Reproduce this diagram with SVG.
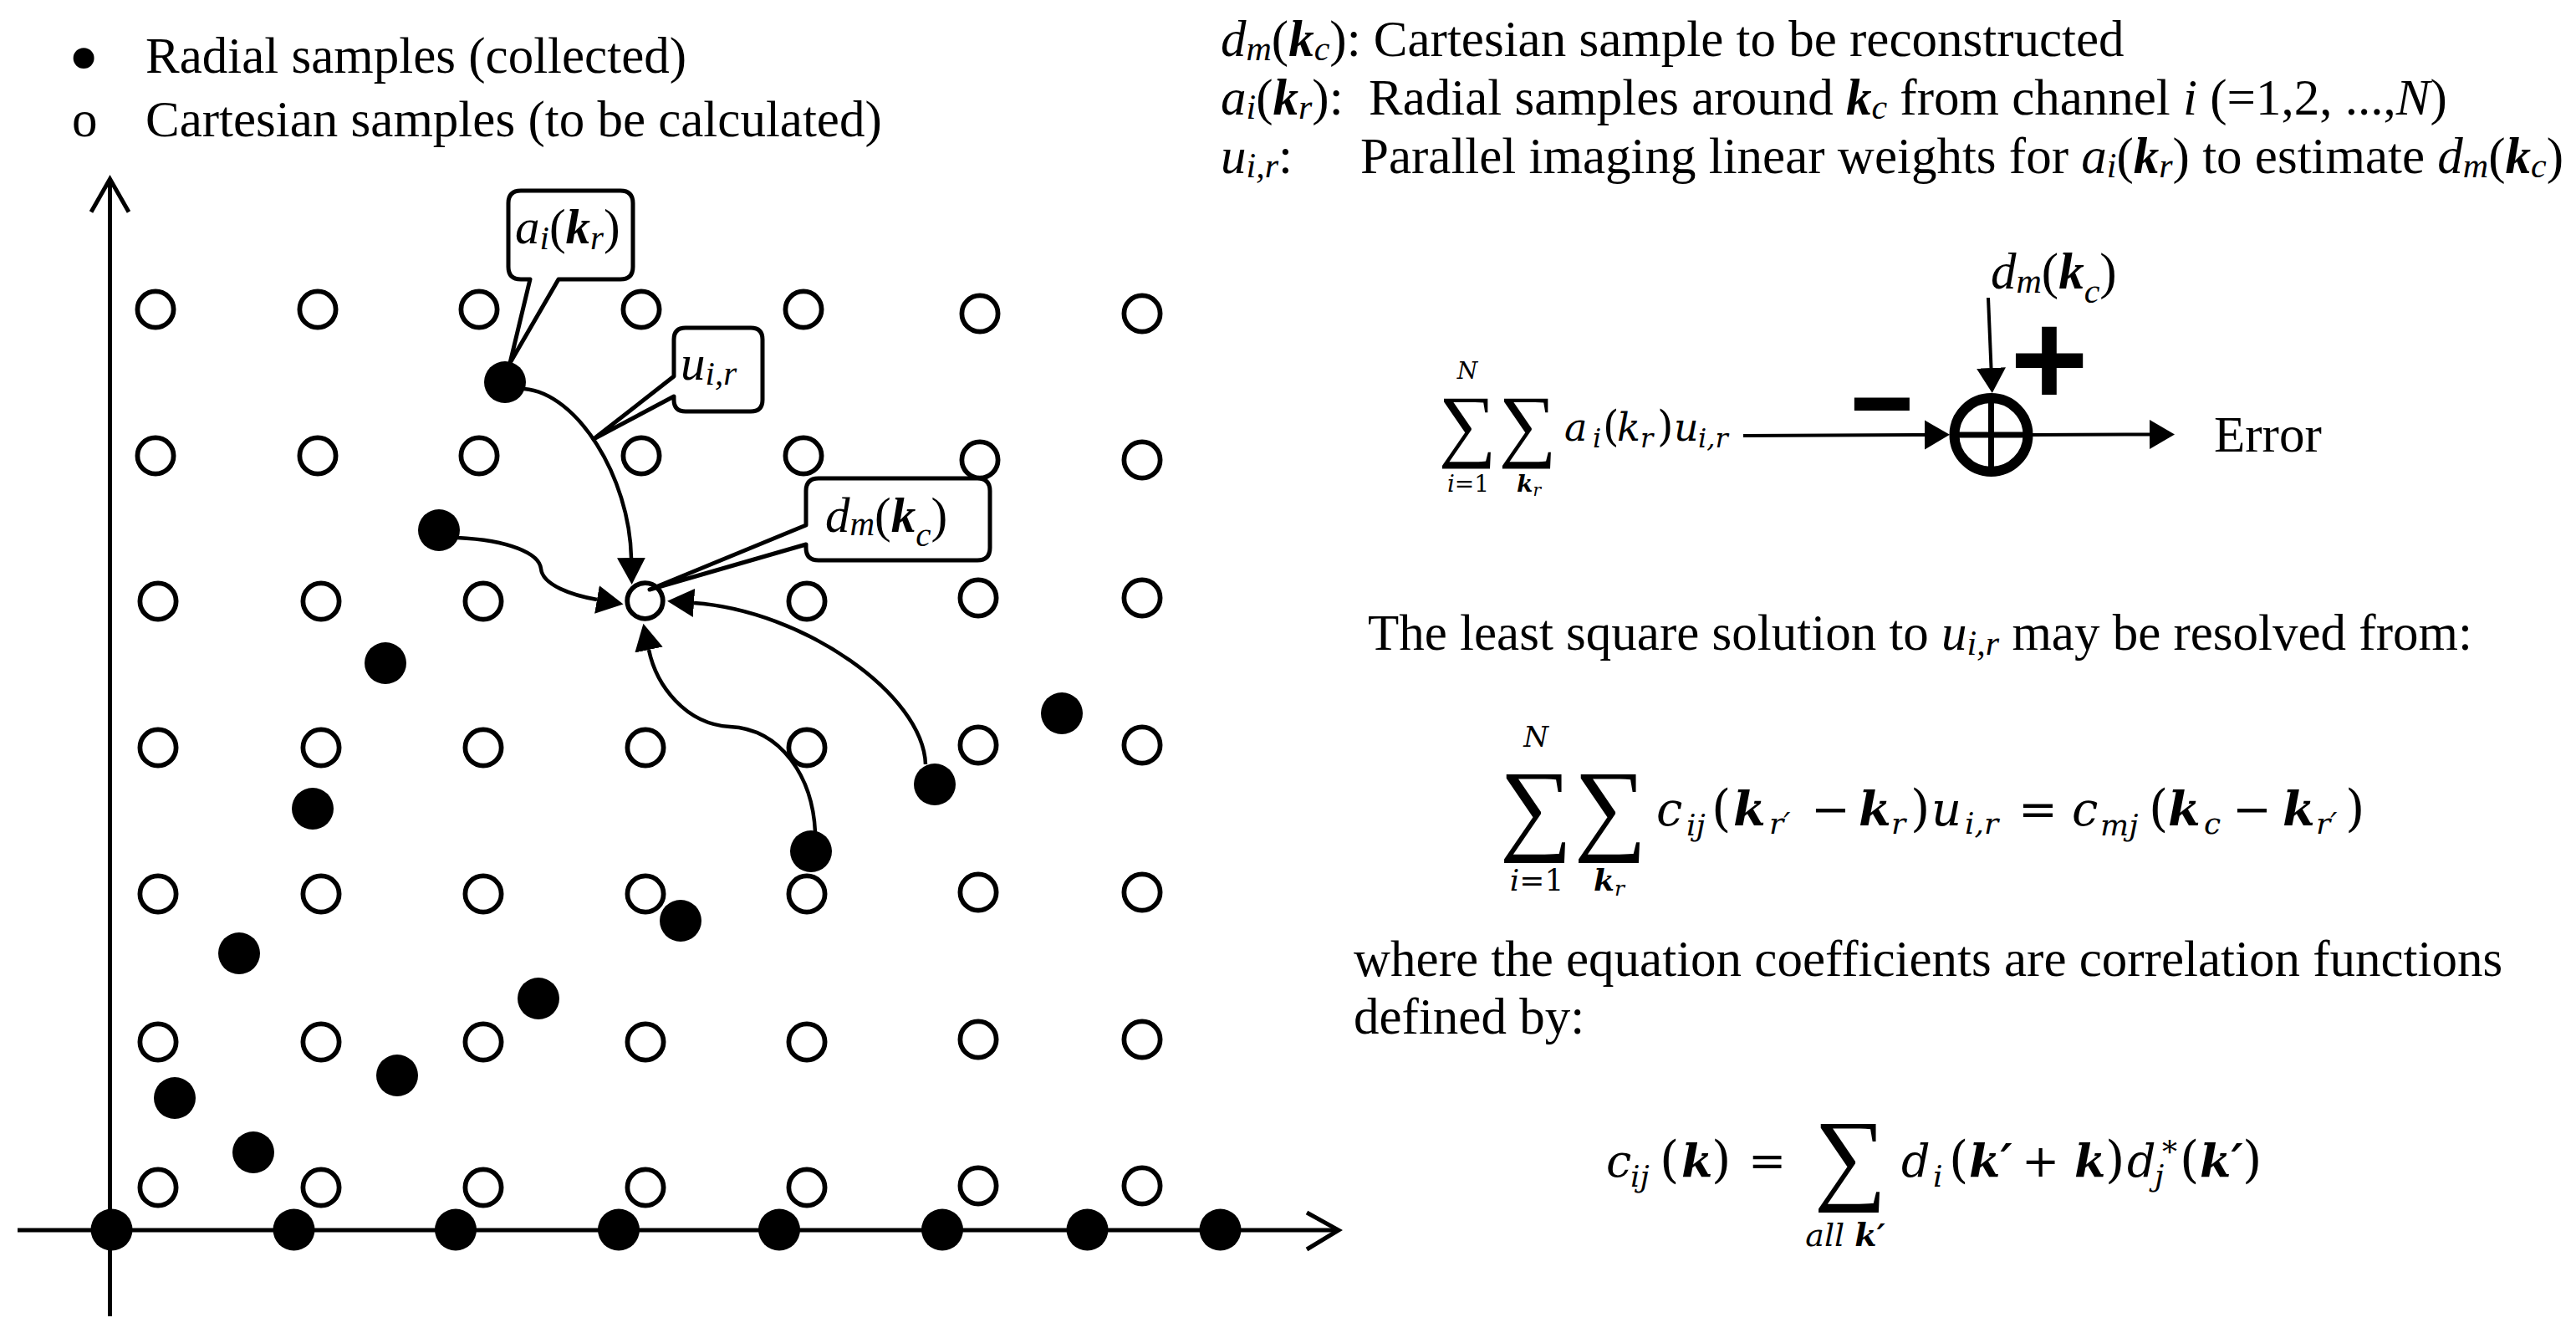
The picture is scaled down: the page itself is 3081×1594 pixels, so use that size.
<svg xmlns="http://www.w3.org/2000/svg" width="3081" height="1594" viewBox="0 0 3081 1594">
<style>
.t{font-family:"Liberation Serif","Times New Roman",serif;font-size:61px;fill:#000}
.c59{font-size:59px}
.i{font-style:italic}
.b{font-weight:bold}
.s{font-size:42px}
.cs{font-size:41px}
.m{font-family:"DejaVu Serif",serif;fill:#000}
.open{fill:#fff;stroke:#000;stroke-width:5.75}
.dot{fill:#000}
.conn{fill:none;stroke:#000;stroke-width:4.5}
.axis{fill:none;stroke:#000;stroke-width:5}
.callout{fill:#fff;stroke:#000;stroke-width:5;stroke-linejoin:round}
.sig{font-family:"Liberation Serif","Times New Roman",serif;fill:#000}
.blk{fill:none;stroke:#000;stroke-width:4}
.sym{font-family:"Liberation Sans",Arial,sans-serif;font-weight:bold;fill:#000}
</style>
<defs>
<marker id="ah" markerUnits="userSpaceOnUse" markerWidth="34" markerHeight="36" viewBox="0 -18 34 36" refX="0" refY="0" orient="auto"><path d="M0,-17 L32,0 L0,17 z" fill="#000"/></marker>
<marker id="ah2" markerUnits="userSpaceOnUse" markerWidth="32" markerHeight="38" viewBox="0 -19 32 38" refX="0" refY="0" orient="auto"><path d="M0,-17.5 L30,0 L0,17.5 z" fill="#000"/></marker>
</defs>
<rect width="3081" height="1594" fill="#fff"/>

<g id="legend">
<text x="100" y="101" style="font-family:'DejaVu Sans',sans-serif;font-size:86px" text-anchor="middle">•</text>
<text class="t" x="86" y="163">o</text>
<text class="t" x="174" y="87">Radial samples (collected)</text>
<text class="t" x="174" y="163">Cartesian samples (to be calculated)</text>
</g>

<g id="axes">
<line class="axis" x1="131.5" y1="215" x2="131.5" y2="1574"/>
<polyline class="axis" points="109,253.5 131.5,214 154,253.5"/>
<line class="axis" x1="21" y1="1471" x2="1600" y2="1471"/>
<polyline class="axis" points="1563,1450 1601,1471 1563,1494"/>
</g>

<g id="cartesian-grid">
<circle class="open" cx="186" cy="370" r="21.6"/><circle class="open" cx="380" cy="370" r="21.6"/><circle class="open" cx="573" cy="370" r="21.6"/><circle class="open" cx="767" cy="370" r="21.6"/><circle class="open" cx="961" cy="370" r="21.6"/><circle class="open" cx="1172" cy="375" r="21.6"/><circle class="open" cx="1366" cy="375" r="21.6"/>
<circle class="open" cx="186" cy="545" r="21.6"/><circle class="open" cx="380" cy="545" r="21.6"/><circle class="open" cx="573" cy="545" r="21.6"/><circle class="open" cx="767" cy="545" r="21.6"/><circle class="open" cx="961" cy="545" r="21.6"/><circle class="open" cx="1172" cy="550" r="21.6"/><circle class="open" cx="1366" cy="550" r="21.6"/>
<circle class="open" cx="189" cy="719" r="21.6"/><circle class="open" cx="384" cy="719" r="21.6"/><circle class="open" cx="578" cy="719" r="21.6"/><circle class="open" cx="965" cy="719" r="21.6"/><circle class="open" cx="1170" cy="715" r="21.6"/><circle class="open" cx="1366" cy="715" r="21.6"/>
<circle class="open" cx="189" cy="894" r="21.6"/><circle class="open" cx="384" cy="894" r="21.6"/><circle class="open" cx="578" cy="894" r="21.6"/><circle class="open" cx="772" cy="894" r="21.6"/><circle class="open" cx="965" cy="894" r="21.6"/><circle class="open" cx="1170" cy="891" r="21.6"/><circle class="open" cx="1366" cy="891" r="21.6"/>
<circle class="open" cx="189" cy="1069" r="21.6"/><circle class="open" cx="384" cy="1069" r="21.6"/><circle class="open" cx="578" cy="1069" r="21.6"/><circle class="open" cx="772" cy="1069" r="21.6"/><circle class="open" cx="965" cy="1069" r="21.6"/><circle class="open" cx="1170" cy="1067" r="21.6"/><circle class="open" cx="1366" cy="1067" r="21.6"/>
<circle class="open" cx="189" cy="1246" r="21.6"/><circle class="open" cx="384" cy="1246" r="21.6"/><circle class="open" cx="578" cy="1246" r="21.6"/><circle class="open" cx="772" cy="1246" r="21.6"/><circle class="open" cx="965" cy="1246" r="21.6"/><circle class="open" cx="1170" cy="1243" r="21.6"/><circle class="open" cx="1366" cy="1243" r="21.6"/>
<circle class="open" cx="189" cy="1420" r="21.6"/><circle class="open" cx="384" cy="1420" r="21.6"/><circle class="open" cx="578" cy="1420" r="21.6"/><circle class="open" cx="772" cy="1420" r="21.6"/><circle class="open" cx="965" cy="1420" r="21.6"/><circle class="open" cx="1170" cy="1418" r="21.6"/><circle class="open" cx="1366" cy="1418" r="21.6"/>
</g>

<g id="target-sample">
<circle class="open" cx="771.5" cy="718.5" r="21.3" stroke-width="5.4"/>
</g>

<g id="radial-samples">
<circle class="dot" cx="604" cy="457" r="25"/>
<circle class="dot" cx="525" cy="634" r="25"/>
<circle class="dot" cx="461" cy="793" r="25"/>
<circle class="dot" cx="374" cy="967" r="25"/>
<circle class="dot" cx="286" cy="1140" r="25"/>
<circle class="dot" cx="209" cy="1313" r="25"/>
<circle class="dot" cx="303" cy="1378" r="25"/>
<circle class="dot" cx="475" cy="1286" r="25"/>
<circle class="dot" cx="644" cy="1194" r="25"/>
<circle class="dot" cx="814" cy="1101" r="25"/>
<circle class="dot" cx="970" cy="1018" r="25"/>
<circle class="dot" cx="1118" cy="938" r="25"/>
<circle class="dot" cx="1270" cy="853" r="25"/>
<circle class="dot" cx="133.5" cy="1470.5" r="25"/>
<circle class="dot" cx="351.5" cy="1470.5" r="25"/>
<circle class="dot" cx="545" cy="1470.5" r="25"/>
<circle class="dot" cx="740" cy="1470.5" r="25"/>
<circle class="dot" cx="932" cy="1470.5" r="25"/>
<circle class="dot" cx="1127" cy="1470.5" r="25"/>
<circle class="dot" cx="1300.5" cy="1470.5" r="25"/>
<circle class="dot" cx="1459.5" cy="1470.5" r="25"/>
</g>

<g id="connectors">
<path class="conn" d="M627,465 C690,470 753,570 755,667" marker-end="url(#ah)"/>
<path class="conn" d="M547,643 C610,646 645,662 647,680 C649,700 685,712 714,717" marker-end="url(#ah)"/>
<path class="conn" d="M975,995 C972,930 935,872 873,869 C820,866 785,820 776,777" marker-end="url(#ah)"/>
<path class="conn" d="M1107,914 C1104,830 960,730 830,721" marker-end="url(#ah)"/>
<line class="blk" x1="2085" y1="521" x2="2302" y2="520" marker-end="url(#ah2)"/>
<line class="blk" x1="2378" y1="356" x2="2381.5" y2="440" marker-end="url(#ah2)"/>
<line class="blk" x1="2431" y1="520" x2="2571" y2="519.5" marker-end="url(#ah2)"/>
</g>

<g id="callout-ai">
<path class="callout" d="M623,228 H742 Q757,228 757,243 V319 Q757,334 742,334 H668 L610,434 L634,334 H623 Q608,334 608,319 V243 Q608,228 623,228 Z"/>
<text class="t c59" x="616" y="291"><tspan class="i">a</tspan><tspan class="i cs" dy="7">i</tspan><tspan dy="-7">(</tspan><tspan class="i b">k</tspan><tspan class="i cs" dy="7">r</tspan><tspan dy="-7">)</tspan></text>
</g>

<g id="callout-u">
<path class="callout" d="M820,392 H898 Q912,392 912,406 V478 Q912,492 898,492 H820 Q806,492 806,478 V474 L710,525 L806,450 V406 Q806,392 820,392 Z"/>
<text class="t c59" x="814" y="454"><tspan class="i">u</tspan><tspan class="i cs" dy="6">i,r</tspan></text>
</g>

<g id="callout-dm">
<path class="callout" d="M979,572 H1169 Q1184,572 1184,587 V655 Q1184,670 1169,670 H979 Q964,670 964,655 V651 L777,705 L964,628 V587 Q964,572 979,572 Z"/>
<text class="t c59" x="987" y="636"><tspan class="i">d</tspan><tspan class="i cs" dy="4">m</tspan><tspan dy="-4">(</tspan><tspan class="i b">k</tspan><tspan class="i cs" dy="17">c</tspan><tspan dy="-17">)</tspan></text>
</g>

<g id="definitions">
<text class="t" x="1460" y="67"><tspan class="i">d</tspan><tspan class="i s" dy="5">m</tspan><tspan dy="-5">(</tspan><tspan class="i b">k</tspan><tspan class="i s" dy="5">c</tspan><tspan dy="-5">): Cartesian sample to be reconstructed</tspan></text>
<text class="t" x="1460" y="137"><tspan class="i">a</tspan><tspan class="i s" dy="5">i</tspan><tspan dy="-5">(</tspan><tspan class="i b">k</tspan><tspan class="i s" dy="5">r</tspan><tspan dy="-5">):</tspan><tspan x="1637">Radial samples around </tspan><tspan class="i b">k</tspan><tspan class="i s" dy="5">c</tspan><tspan dy="-5"> from channel </tspan><tspan class="i">i</tspan><tspan> (=1,2, ...,</tspan><tspan class="i">N</tspan><tspan>)</tspan></text>
<text class="t" x="1460" y="207"><tspan class="i">u</tspan><tspan class="i s" dy="5">i,r</tspan><tspan dy="-5">:</tspan><tspan x="1627">Parallel imaging linear weights for </tspan><tspan class="i">a</tspan><tspan class="i s" dy="5">i</tspan><tspan dy="-5">(</tspan><tspan class="i b">k</tspan><tspan class="i s" dy="5">r</tspan><tspan dy="-5">) to estimate </tspan><tspan class="i">d</tspan><tspan class="i s" dy="5">m</tspan><tspan dy="-5">(</tspan><tspan class="i b">k</tspan><tspan class="i s" dy="5">c</tspan><tspan dy="-5">)</tspan></text>
</g>

<g id="error-block">
<text class="sig" x="1755" y="540" font-size="97" text-anchor="middle">∑</text>
<text class="sig" x="1827" y="540" font-size="97" text-anchor="middle">∑</text>
<text class="m" x="1755" y="453" font-size="28" font-style="italic" text-anchor="middle">N</text>
<text class="m" x="1756" y="588" font-size="28" text-anchor="middle"><tspan font-style="italic">i</tspan>=1</text>
<text class="m" x="1814" y="588" font-size="28" font-style="italic"><tspan font-weight="bold">k</tspan><tspan font-size="20" dy="5">r</tspan></text>
<text class="m" y="527" font-size="46"><tspan x="1871" font-style="italic">a</tspan><tspan x="1905" font-style="italic" font-size="32" dy="8">i</tspan><tspan x="1917" dy="-8" font-size="50">(</tspan><tspan x="1934" font-style="italic">k</tspan><tspan x="1962" font-style="italic" font-size="32" dy="8">r</tspan><tspan x="1982" dy="-8" font-size="50">)</tspan><tspan x="2002" font-style="italic">u</tspan><tspan x="2031" font-style="italic" font-size="32" dy="8">i,r</tspan></text>
<text class="sym" x="2251" y="517" style="font-size:130px" text-anchor="middle" transform="translate(2251,0) scale(2,1) translate(-2251,0)">-</text>
<text class="sym" x="2451" y="485" style="font-size:160px" text-anchor="middle">+</text>
<circle cx="2381.5" cy="520" r="44" fill="#fff" stroke="#000" stroke-width="12"/>
<line x1="2381.5" y1="472" x2="2381.5" y2="568" stroke="#000" stroke-width="7"/>
<line x1="2333" y1="520" x2="2430" y2="520" stroke="#000" stroke-width="7"/>
<text class="t" x="2381" y="345"><tspan class="i">d</tspan><tspan class="i s" dy="5">m</tspan><tspan dy="-5">(</tspan><tspan class="i b">k</tspan><tspan class="i s" dy="17">c</tspan><tspan dy="-17">)</tspan></text>
<text class="t" x="2648" y="540">Error</text>
</g>

<g id="least-square-text">
<text class="t" x="1636" y="777">The least square solution to <tspan class="i">u</tspan><tspan class="i s" dy="6">i,r</tspan><tspan dy="-6"> may be resolved from:</tspan></text>
</g>

<g id="equation-1">
<text class="sig" x="1837" y="1006" font-size="122" text-anchor="middle">∑</text>
<text class="sig" x="1926" y="1006" font-size="122" text-anchor="middle">∑</text>
<text class="m" x="1837" y="893" font-size="34" font-style="italic" text-anchor="middle">N</text>
<text class="m" x="1838" y="1065" font-size="36" text-anchor="middle"><tspan font-style="italic">i</tspan>=1</text>
<text class="m" x="1906" y="1065" font-size="36" font-style="italic"><tspan font-weight="bold">k</tspan><tspan font-size="25" dy="6">r</tspan></text>
<text class="m" y="987" font-size="56"><tspan x="1981" font-style="italic">c</tspan><tspan x="2017" font-style="italic" font-size="36" dy="12">ij</tspan><tspan x="2047" dy="-12" font-size="60">(</tspan><tspan x="2073" font-style="italic" font-weight="bold">k</tspan><tspan x="2116" font-style="italic" font-size="36" dy="10">r′</tspan><tspan x="2166" dy="-10">−</tspan><tspan x="2223" font-style="italic" font-weight="bold">k</tspan><tspan x="2262" font-style="italic" font-size="36" dy="10">r</tspan><tspan x="2285" dy="-10" font-size="60">)</tspan><tspan x="2310" font-style="italic">u</tspan><tspan x="2350" font-style="italic" font-size="36" dy="10">i,r</tspan><tspan x="2414" dy="-10">=</tspan><tspan x="2478" font-style="italic">c</tspan><tspan x="2512" font-style="italic" font-size="36" dy="12">mj</tspan><tspan x="2570" dy="-12" font-size="60">(</tspan><tspan x="2593" font-style="italic" font-weight="bold">k</tspan><tspan x="2636" font-style="italic" font-size="36" dy="10">c</tspan><tspan x="2670" dy="-10">−</tspan><tspan x="2730" font-style="italic" font-weight="bold">k</tspan><tspan x="2770" font-style="italic" font-size="36" dy="10">r′</tspan><tspan x="2805" dy="-10" font-size="60">)</tspan></text>
</g>

<g id="correlation-text">
<text class="t" x="1619" y="1167">where the equation coefficients are correlation functions</text>
<text class="t" x="1619" y="1236">defined by:</text>
</g>

<g id="equation-2">
<text class="sig" x="2213" y="1424" font-size="122" text-anchor="middle">∑</text>
<text class="m" x="2207" y="1490" font-size="38" font-style="italic" text-anchor="middle">all <tspan font-weight="bold">k′</tspan></text>
<text class="m" y="1407" font-size="54"><tspan x="1921" font-style="italic">c</tspan><tspan x="1950" font-style="italic" font-size="36" dy="12">ij</tspan><tspan x="1985" dy="-12" font-size="60">(</tspan><tspan x="2011" font-style="italic" font-weight="bold">k</tspan><tspan x="2047" font-size="60">)</tspan><tspan x="2091">=</tspan><tspan x="2274" font-style="italic">d</tspan><tspan x="2312" font-style="italic" font-size="36" dy="12">i</tspan><tspan x="2331" dy="-12" font-size="60">(</tspan><tspan x="2355" font-style="italic" font-weight="bold">k′</tspan><tspan x="2418">+</tspan><tspan x="2481" font-style="italic" font-weight="bold">k</tspan><tspan x="2518" font-size="60">)</tspan><tspan x="2544" font-style="italic">d</tspan><tspan x="2577" font-style="italic" font-size="36" dy="11">j</tspan><tspan x="2586" font-size="36" dy="-28">*</tspan><tspan x="2607" dy="17" font-size="60">(</tspan><tspan x="2631" font-style="italic" font-weight="bold">k′</tspan><tspan x="2682" font-size="60">)</tspan></text>
</g>
</svg>
